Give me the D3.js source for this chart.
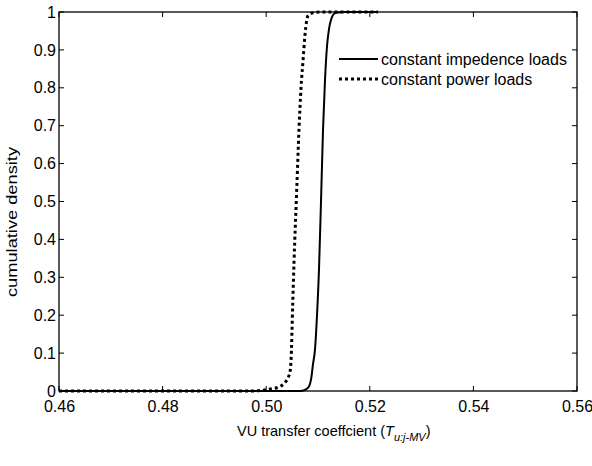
<!DOCTYPE html>
<html><head><meta charset="utf-8">
<script src="https://cdn.jsdelivr.net/npm/d3@7/dist/d3.min.js"></script>
<style>body{margin:0;background:#fff}svg{display:block}text{font-family:"Liberation Sans",Arial,sans-serif;fill:#000}</style>
</head><body><svg id="c" width="592" height="466"></svg>
<script>
const xTicks = [0.46,0.48,0.5,0.52,0.54,0.56];
const yTicks = [0,0.1,0.2,0.3,0.4,0.5,0.6,0.7,0.8,0.9,1];
const seriesNames = ["constant impedence loads","constant power loads"];
const impX = [0.46,0.50653,0.50749,0.50826,0.50865,0.50903,0.50942,0.50981,0.51019,0.51058,0.51097,0.51135,0.51174,0.51212,0.51251,0.51290,0.51347,0.51521,0.5216];
const impY = [0,0,0.003,0.012,0.03,0.07,0.11,0.2,0.32,0.5,0.69,0.82,0.91,0.955,0.979,0.992,0.998,1,1];
const powX = [0.46,0.49687,0.49919,0.50112,0.50266,0.50363,0.50421,0.50459,0.50479,0.50512,0.50537,0.50589,0.50633,0.50672,0.50710,0.50749,0.50807,0.50903,0.51039,0.5216];
const powY = [0,0,0.002,0.006,0.012,0.022,0.035,0.05,0.08,0.23,0.34,0.53,0.69,0.80,0.87,0.94,0.99,0.998,1,1];

const svg = d3.select("#c");
const L=59,R=577,T=12,B=391;
const x = d3.scaleLinear().domain([0.46,0.56]).range([L,R]);
const y = d3.scaleLinear().domain([0,1]).range([B,T]);

const line = d3.line().x(d=>x(d[0])).y(d=>y(d[1])).curve(d3.curveMonotoneX);
const imp = impX.map((v,i)=>[v,impY[i]]);
const pow = powX.map((v,i)=>[v,powY[i]]);

svg.append("rect").attr("x",L).attr("y",T).attr("width",R-L).attr("height",B-T)
  .attr("fill","none").attr("stroke","#000").attr("stroke-width",1.3);

const tl=5;
const FF="Liberation Sans, Arial, sans-serif";
const xAxis = d3.axisBottom(x).tickValues(xTicks).tickSize(0).tickPadding(0)
  .tickFormat(d=>d3.format(".2f")(d));
const gx = svg.append("g").attr("transform",`translate(0,${B})`).call(xAxis);
gx.select(".domain").remove();
gx.selectAll("text").attr("font-size",16).attr("font-family",FF).attr("y",21).attr("dy",null).attr("fill","#000");
const yAxis = d3.axisLeft(y).tickValues(yTicks).tickSize(0).tickPadding(3)
  .tickFormat(d=>d===0||d===1?String(d):d3.format(".1f")(d));
const gy = svg.append("g").attr("transform",`translate(${L},0)`).call(yAxis);
gy.select(".domain").remove();
gy.selectAll("text").attr("font-size",16).attr("font-family",FF).attr("fill","#000");

const tg = svg.append("g").attr("stroke","#000").attr("stroke-width",1);
xTicks.forEach(t=>{
  tg.append("line").attr("x1",x(t)).attr("x2",x(t)).attr("y1",B).attr("y2",B-tl);
  tg.append("line").attr("x1",x(t)).attr("x2",x(t)).attr("y1",T).attr("y2",T+tl);
});
yTicks.forEach(t=>{
  tg.append("line").attr("x1",L).attr("x2",L+tl).attr("y1",y(t)).attr("y2",y(t));
  tg.append("line").attr("x1",R).attr("x2",R-tl).attr("y1",y(t)).attr("y2",y(t));
});

svg.append("path").datum(imp).attr("d",line).attr("fill","none").attr("stroke","#000").attr("stroke-width",2);
svg.append("path").datum(pow).attr("d",line).attr("fill","none").attr("stroke","#000").attr("stroke-width",3).attr("stroke-dasharray","3,3");

const lg = svg.append("g");
lg.append("line").attr("x1",339).attr("x2",378).attr("y1",59).attr("y2",59).attr("stroke","#000").attr("stroke-width",2);
lg.append("line").attr("x1",339).attr("x2",378).attr("y1",79).attr("y2",79).attr("stroke","#000").attr("stroke-width",3).attr("stroke-dasharray","3,3");
lg.append("text").attr("x",381).attr("y",65).attr("font-size",16).text(seriesNames[0]);
lg.append("text").attr("x",381).attr("y",85).attr("font-size",16).text(seriesNames[1]);

const xl = svg.append("text").attr("x",237).attr("y",436).attr("font-size",14.5);
xl.append("tspan").text("VU transfer coeffcient (");
xl.append("tspan").attr("font-style","italic").text("T");
xl.append("tspan").attr("font-style","italic").attr("font-size",11).attr("dy",5).text("u:j-MV");
xl.append("tspan").attr("dy",-5).text(")");
svg.append("text").attr("transform",`translate(17,222) rotate(-90)`).attr("text-anchor","middle")
  .attr("font-size",14.5).attr("textLength",150).attr("lengthAdjust","spacingAndGlyphs").text("cumulative density");
</script></body></html>
